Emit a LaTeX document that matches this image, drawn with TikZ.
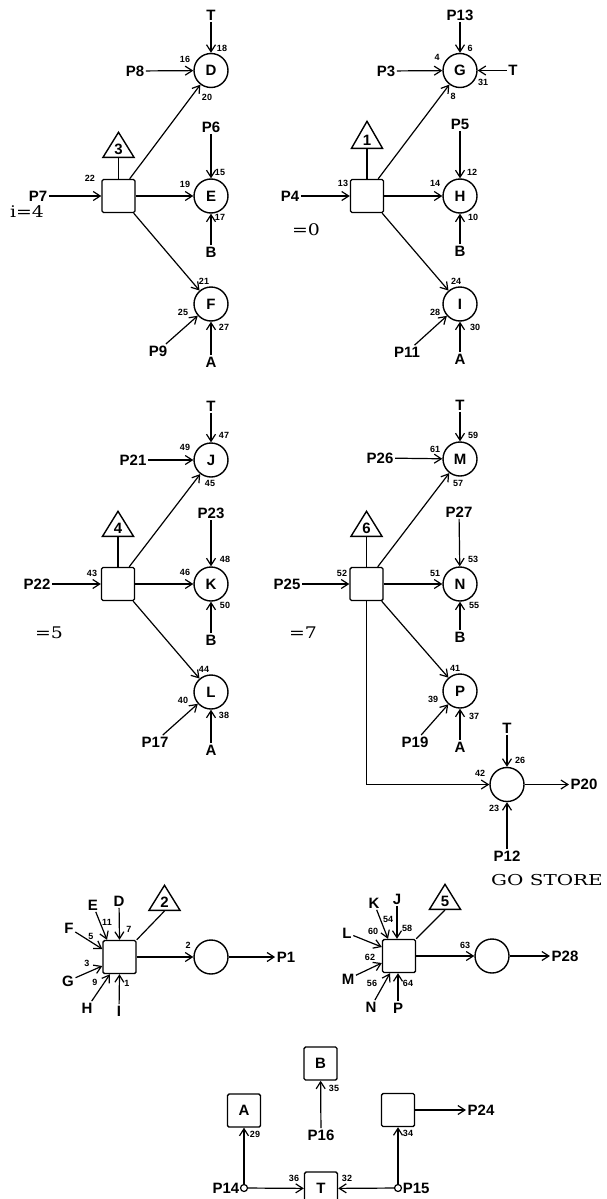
\documentclass[tikz,border=0pt]{standalone}
\usepackage{fontspec}
\usepackage{graphicx}
\newfontfamily\labfont{Liberation Sans}
\newfontfamily\serffont{DejaVu Serif}
\usetikzlibrary{arrows.meta, shapes.geometric}

\tikzset{
  lab/.style={font=\labfont\bfseries\fontsize{15}{15}\selectfont, inner sep=1.5pt},
  num/.style={font=\labfont\bfseries\fontsize{9}{9}\selectfont, inner sep=0pt},
  place/.style={lab, circle, draw, line width=1.4pt, minimum size=34pt, inner sep=0pt},
  trans/.style={lab, rectangle, draw, line width=1.4pt, minimum size=33pt, inner sep=0pt, rounded corners=1.5pt},
  prio/.style={lab, isosceles triangle, isosceles triangle stretches, shape border rotate=90, draw, line width=1.4pt, minimum width=31pt, minimum height=25pt, inner sep=0pt},
  arc/.style={line width=1.2pt, -{Straight Barb[length=7pt,width=9pt]}},
  link/.style={line width=1.2pt},
  serif/.style={font=\serffont\fontsize{16}{16}\selectfont, inner sep=0pt}
}

\begin{document}
\begin{tikzpicture}[x=1pt, y=-1pt]
    \useasboundingbox (0,0) rectangle (607,1199);

    % i=4
    \node[trans] (sqd) at (118.5,196) {};
    \node[prio, anchor=south] (tri3) at (118.5,158) {3};
    \node[place] (D) at (211,70.5) {D};
    \node[place] (E) at (211,196) {E};
    \node[place] (F) at (211,304) {F};
    \node[lab] (P7) at (38,196) {P7};
    \node[lab] (P8) at (135,71) {P8};
    \node[lab] (Td) at (211,15) {T};
    \node[lab] (P6) at (211,127) {P6};
    \node[lab] (Be) at (211,252) {B};
    \node[lab] (P9) at (158,351) {P9};
    \node[lab] (Af) at (211,362) {A};
    \node[serif] (i4) at (27,212) {\scalebox{1.18}[1]{i=4}};
    \draw[link] (sqd.north) -- (tri3.south);
    \draw[arc] (P7) -- (sqd);
    \draw[arc] (P8) -- (D);
    \draw[arc] (Td) -- (D);
    \draw[arc] ([xshift=-6]sqd.north east) -- (D);
    \draw[arc] (sqd) -- (E);
    \draw[arc] (P6) -- (E);
    \draw[arc] (Be) -- (E);
    \draw[arc] ([xshift=-2]sqd.south east) -- (F);
    \draw[arc] (P9) -- (F);
    \draw[arc] (Af) -- (F);

    % =0
    \node[trans] (sqg) at (367,196) {};
    \node[prio, anchor=south, minimum height=27pt] (tri1) at (367,149) {1};
    \node[place] (G) at (460,70.5) {G};
    \node[place] (H) at (460,196) {H};
    \node[place] (I) at (460,304) {I};
    \node[lab] (P4) at (290,196) {P4};
    \node[lab] (P3) at (386,71) {P3};
    \node[lab] (P13) at (460,15) {P13};
    \node[lab] (Tg) at (513,70.5) {T};
    \node[lab] (P5) at (460,124) {P5};
    \node[lab] (Bh) at (460,251) {B};
    \node[lab] (P11) at (407,352) {P11};
    \node[lab] (Ai) at (460,359) {A};
    \node[serif] (i0) at (306,230) {\scalebox{1.18}[1]{=0}};
    \draw[link] (sqg.north) -- (tri1.south);
    \draw[arc] (P4) -- (sqg);
    \draw[arc] (P3) -- (G);
    \draw[arc] (P13) -- (G);
    \draw[arc] (Tg) -- (G);
    \draw[arc] ([xshift=-6]sqg.north east) -- (G);
    \draw[arc] (sqg) -- (H);
    \draw[arc] (P5) -- (H);
    \draw[arc] (Bh) -- (H);
    \draw[arc] ([xshift=-2]sqg.south east) -- (I);
    \draw[arc] (P11) -- (I);
    \draw[arc] (Ai) -- (I);

    % =5
    \node[trans] (sqj) at (118,584) {};
    \node[prio, anchor=south] (tri4) at (118,537) {4};
    \node[place] (J) at (211,460) {J};
    \node[place] (K) at (211,584) {K};
    \node[place] (L) at (211,692) {L};
    \node[lab] (P22) at (37,584) {P22};
    \node[lab] (P21) at (133,460) {P21};
    \node[lab] (Tj) at (211,406) {T};
    \node[lab] (P23) at (211,513) {P23};
    \node[lab] (Bk) at (211,640) {B};
    \node[lab] (P17) at (155,742) {P17};
    \node[lab] (Al) at (211,750) {A};
    \node[serif] (i5) at (49,633) {\scalebox{1.18}[1]{=5}};
    \draw[link] (sqj.north) -- (tri4.south);
    \draw[arc] (P22) -- (sqj);
    \draw[arc] (P21) -- (J);
    \draw[arc] (Tj) -- (J);
    \draw[arc] ([xshift=-6]sqj.north east) -- (J);
    \draw[arc] (sqj) -- (K);
    \draw[arc] (P23) -- (K);
    \draw[arc] (Bk) -- (K);
    \draw[arc] ([xshift=-2]sqj.south east) -- (L);
    \draw[arc] (P17) -- (L);
    \draw[arc] (Al) -- (L);

    % =7
    \node[trans] (sqm) at (366.5,584) {};
    \node[prio, anchor=south] (tri6) at (366.5,537) {6};
    \node[place] (M) at (460,459) {M};
    \node[place] (N) at (460,584) {N};
    \node[place] (P) at (460,691) {P};
    \node[place] (S) at (507,784.5) {};
    \node[lab] (P25) at (287,584) {P25};
    \node[lab] (P26) at (380,458) {P26};
    \node[lab] (Tm) at (460,405) {T};
    \node[lab] (P27) at (459,512) {P27};
    \node[lab] (Bn) at (460,637) {B};
    \node[lab] (P19) at (415,742) {P19};
    \node[lab] (Ap) at (460,747) {A};
    \node[lab] (Ts) at (507,728) {T};
    \node[lab] (P12) at (507,856) {P12};
    \node[lab] (P20) at (584,784.5) {P20};
    \node[serif] (i7) at (303,633) {\scalebox{1.18}[1]{=7}};
    \node[serif, font=\serffont\fontsize{15}{15}\selectfont] (gostore) at (547,880) {\scalebox{1.33}[1]{GO STORE}};
    \draw[link] (sqm.north) -- (tri6.south);
    \draw[arc] (P25) -- (sqm);
    \draw[arc] (P26) -- (M);
    \draw[arc] (Tm) -- (M);
    \draw[arc] ([xshift=-6]sqm.north east) -- (M);
    \draw[arc] (sqm) -- (N);
    \draw[arc] (P27) -- (N);
    \draw[arc] (Bn) -- (N);
    \draw[arc] ([xshift=-2]sqm.south east) -- (P);
    \draw[arc] (P19) -- (P);
    \draw[arc] (Ap) -- (P);
    \draw[arc] (sqm.south) |- (S);
    \draw[arc] (Ts) -- (S);
    \draw[arc] (P12) -- (S);
    \draw[arc] (S) -- (P20);

    % collecting D..I
    \node[trans] (sqo) at (119.5,957) {};
    \node[prio, anchor=south] (tri2) at (164.5,911) {2};
    \node[place] (outa) at (211,957) {};
    \node[lab] (P1) at (286,957) {P1};
    \foreach \n/\x/\y in {D/119/901, E/93/905, F/69/928, G/68/981, H/87/1008, I/119/1011}
        \node[lab] (in\n) at (\x,\y) {\n};
    \draw[link] (sqo.north east) -- (tri2.south);
    \draw[arc] (inD) -- (sqo.north);
    \draw[arc] (inE) -- ([xshift=-12.5]sqo.north);
    \draw[arc] (inF) -- ([yshift=8]sqo.west);
    \draw[arc] (inG) -- ([yshift=-9]sqo.west);
    \draw[arc] (inH) -- ([xshift=-9.5]sqo.south);
    \draw[arc] (inI) -- (sqo.south);
    \draw[arc] (sqo) -- (outa);
    \draw[arc] (outa) -- (P1);

    % collecting J..P
    \node[trans] (sqr) at (399,956) {};
    \node[prio, anchor=south] (tri5) at (445,910) {5};
    \node[place] (outb) at (492,956) {};
    \node[lab] (P28) at (565,956) {P28};
    \foreach \n/\x/\y in {J/397/899, K/374/903, L/347/933, M/348/979, N/371/1007, P/398/1008}
        \node[lab] (in\n) at (\x,\y) {\n};
    \draw[link] (sqr.north east) -- (tri5.south);
    \draw[arc] (inJ) -- ([xshift=-2]sqr.north);
    \draw[arc] (inK) -- ([xshift=-11]sqr.north);
    \draw[arc] (inL) -- ([yshift=9]sqr.west);
    \draw[arc] (inM) -- ([yshift=-7]sqr.west);
    \draw[arc] (inN) -- ([xshift=-9]sqr.south);
    \draw[arc] (inP) -- ([xshift=-1]sqr.south);
    \draw[arc] (sqr) -- (outb);
    \draw[arc] (outb) -- (P28);

    % A, B, T
    \node[trans] (boxB) at (320.5,1063.5) {B};
    \node[trans] (boxA) at (244,1110.5) {A};
    \node[trans] (boxC) at (398,1110) {};
    \node[trans] (boxT) at (321,1188.5) {T};
    \node[circle, draw, line width=1.2pt, minimum size=7pt, inner sep=0pt] (c14) at (244,1188) {};
    \node[circle, draw, line width=1.2pt, minimum size=7pt, inner sep=0pt] (c15) at (398,1188) {};
    \node[lab, anchor=east, inner sep=0.5pt] (P14) at (c14.west) {P14};
    \node[lab, anchor=west, inner sep=0.5pt] (P15) at (c15.east) {P15};
    \node[lab] (P16) at (321,1135) {P16};
    \node[lab] (P24) at (481,1110) {P24};
    \draw[arc] (P16) -- (boxB);
    \draw[arc] (c14) -- (boxA);
    \draw[arc] (c14) -- (boxT);
    \draw[arc] (c15) -- (boxT);
    \draw[arc] (c15) -- (boxC);
    \draw[arc] (boxC) -- (P24);

    \foreach \t/\x/\y in {22/90/178, 16/185/59, 18/222/48, 20/207/97, 15/220/172, 19/185/184, 17/220/217, 21/204/281, 25/183/312, 27/224/327,
        13/343/183, 4/437/57, 6/470/48, 31/483/82, 8/453/96, 12/472/172, 14/435/183, 10/473/217, 24/456/281, 28/435/312, 30/475/327,
        43/92/573, 49/185/447, 47/224/435, 45/210/483, 48/225/559, 46/185/572, 50/225/605, 44/204/669, 40/183/700, 38/224/715,
        52/342/573, 61/435/449, 59/473/435, 57/458/483, 53/473/559, 51/435/573, 55/474/605, 41/455/668, 39/433/699, 37/474/716,
        42/480/773, 26/520/760, 23/494/808,
        2/188/945, 7/129/929, 11/107/922, 5/91/936, 3/87/963, 9/95/982, 1/127/983,
        63/465/945, 58/407/928, 54/388/919, 60/373/931, 62/370/957, 56/372/983, 64/408/983,
        35/334/1088, 29/255/1134, 34/408/1133, 36/294/1178, 32/347/1178}
        \node[num] (n\t) at (\x,\y) {\t};
\end{tikzpicture}
\end{document}
